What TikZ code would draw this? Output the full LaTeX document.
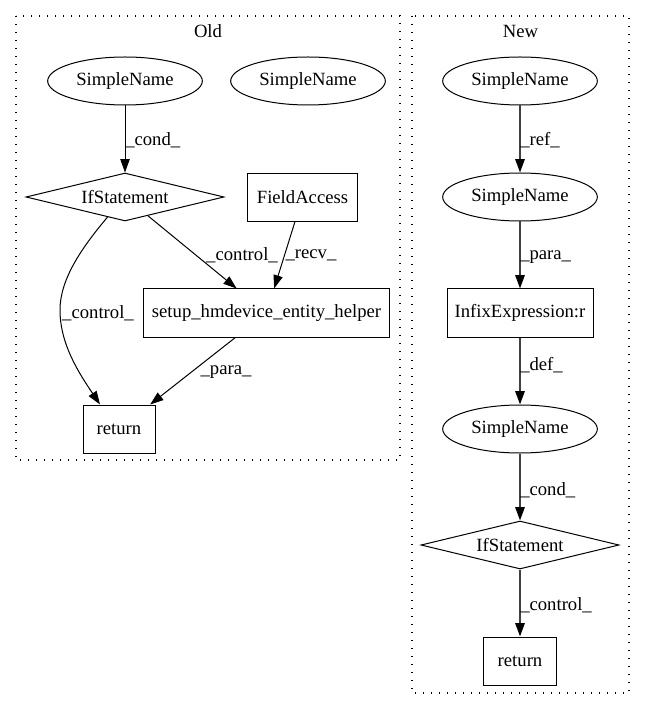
\documentclass[tikz,border=0pt]{standalone}
\usepackage{fontspec}
\setmainfont{Liberation Serif}
\usetikzlibrary{shapes.geometric,arrows.meta,calc}
\begin{document}
\begin{tikzpicture}[x=0.75pt,y=-0.75pt,
  font=\fontsize{14pt}{16pt}\selectfont,
  ell/.style={ellipse,draw,line width=0.75pt,minimum width=116pt,minimum height=36pt,inner sep=0pt},
  box/.style={rectangle,draw,line width=0.75pt,minimum height=36pt,inner sep=0pt},
  dia/.style={diamond,draw,line width=0.75pt,aspect=4,minimum width=148.5pt,minimum height=36pt,inner sep=0pt},
  edge/.style={draw,line width=0.75pt,-{Triangle[length=10pt,width=7pt]}},
  nedge/.style={draw=black!75,line width=1.3pt,-{Triangle[length=10pt,width=7pt,color=black]}},
  lbl/.style={inner sep=0pt,anchor=west},
  clbl/.style={inner sep=0pt},
  cluster/.style={draw,line width=1pt,dash pattern=on 1pt off 5pt}]
\useasboundingbox (0,0) rectangle (645,712);
\fill[white] (0,0) rectangle (645,712);

% clusters
\draw[cluster] (16,16) rectangle (400,460);
\node[clbl] (oldlbl) at (208,31) {Old};
\draw[cluster] (412,16) rectangle (629,693);
\node[clbl] (newlbl) at (520.5,31) {New};

% Old nodes
\node[ell] (osa) at (125,81) {SimpleName};
\node[ell] (osb) at (308,81) {SimpleName};
\node[dia] (oif) at (125,197) {IfStatement};
\node[box,minimum width=83pt] (ofa) at (302.5,197.5) {FieldAccess};
\node[box,minimum width=184pt] (osh) at (266.5,313) {setup\_hmdevice\_entity\_helper};
\node[box,minimum width=54pt] (oret) at (119,429) {return};

% New nodes
\node[ell] (nsa) at (520,81) {SimpleName};
\node[ell] (nsb) at (520,197) {SimpleName};
\node[box,minimum width=109.5pt] (nie) at (520,313) {InfixExpression:r};
\node[ell] (nsc) at (520,429) {SimpleName};
\node[dia] (nif) at (520,545) {IfStatement};
\node[box,minimum width=54.75pt] (nret) at (520,661) {return};

% Old edges
\draw[edge] (osa) -- (oif);
\node[lbl] (l1) at (125,140) {\_cond\_};
\coordinate (bend) at (60,310);
\draw[edge] (oif.229) .. controls +(-27,32) and +(0,-30) .. (bend)
  .. controls +(0,35) and +(-20,-30) .. ($(oret.north)+(-19,0)$);
\node[clbl] (l2) at (98,313) {\_control\_};
\draw[edge] (oif) -- (osh);
\node[clbl] (l3) at (242,255) {\_control\_};
\draw[edge] (ofa) -- (osh);
\node[clbl] (l4) at (311,255) {\_recv\_};
\draw[edge] (osh) -- (oret);
\node[clbl] (l5) at (226,372) {\_para\_};

% New edges
\draw[nedge] (nsa) -- (nsb);
\node[lbl] (m1) at (520,140) {\_ref\_};
\draw[nedge] (nsb) -- (nie);
\node[lbl] (m2) at (520,257) {\_para\_};
\draw[nedge] (nie) -- (nsc);
\node[lbl] (m3) at (520,365) {\_def\_};
\draw[nedge] (nsc) -- (nif);
\node[lbl] (m4) at (520,490) {\_cond\_};
\draw[nedge] (nif) -- (nret);
\node[lbl] (m5) at (520,605) {\_control\_};
\end{tikzpicture}
\end{document}
